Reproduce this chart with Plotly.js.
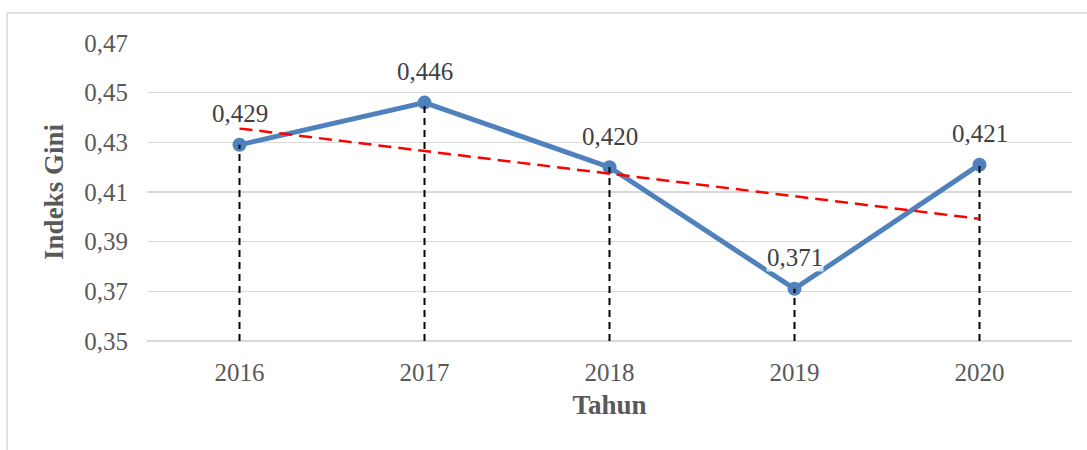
<!DOCTYPE html>
<html>
<head>
<meta charset="utf-8">
<script src="https://cdn.plot.ly/plotly-3.0.1.min.js"></script>
<style>
html,body{margin:0;padding:0;background:#fff;}
#chart{width:1087px;height:450px;}
</style>
</head>
<body>
<div id="chart"></div>
<script>
// Data
var years = ['2016', '2017', '2018', '2019', '2020'];
var giniValues = [0.429, 0.446, 0.420, 0.371, 0.421];
var giniLabels = ['0,429', '0,446', '0,420', '0,371', '0,421'];
var trendYears = ['2016', '2020'];
var trendValues = [0.4356, 0.3992];
var yTickVals = [0.35, 0.37, 0.39, 0.41, 0.43, 0.45, 0.47];
var yTickText = ['0,35', '0,37', '0,39', '0,41', '0,43', '0,45', '0,47'];
var yRange = [0.35, 0.47];

var FONT = 'Liberation Serif, DejaVu Serif, serif';

var traces = [];
traces.push({
  type: 'scatter', mode: 'lines+markers', x: years, y: giniValues,
  line: {color: '#4f81bd', width: 5},
  marker: {color: '#4f81bd', size: 14},
  hoverinfo: 'skip', showlegend: false, cliponaxis: false
});
for (var i = 0; i < years.length; i++) {
  traces.push({
    type: 'scatter', mode: 'lines', x: [years[i], years[i]], y: [yRange[0], giniValues[i]],
    line: {color: '#000000', width: 2, dash: '7px,5px'},
    hoverinfo: 'skip', showlegend: false, cliponaxis: false
  });
}
traces.push({
  type: 'scatter', mode: 'lines', x: trendYears, y: trendValues,
  line: {color: '#ff0000', width: 2.5, dash: '13px,7px'},
  hoverinfo: 'skip', showlegend: false
});

var annotations = [];
for (var j = 0; j < years.length; j++) {
  annotations.push({
    x: j, y: giniValues[j], xref: 'x', yref: 'y',
    text: giniLabels[j], showarrow: false,
    xanchor: 'center', yanchor: 'middle', yshift: 31,
    font: {family: FONT, size: 25, color: '#404040'},
    bgcolor: 'rgba(255,255,255,0.75)', borderpad: 0
  });
}

var layout = {
  width: 1087, height: 450,
  margin: {l: 147, r: 15, t: 43, b: 109, pad: 0},
  paper_bgcolor: '#ffffff', plot_bgcolor: '#ffffff',
  showlegend: false,
  font: {family: FONT, size: 25, color: '#595959'},
  xaxis: {
    type: 'category', categoryorder: 'array', categoryarray: years,
    range: [-0.5, 4.5], showgrid: false, zeroline: false,
    showline: false, ticks: '', ticklabelstandoff: 14,
    tickfont: {family: FONT, size: 25, color: '#595959'},
    title: {text: 'Tahun', font: {family: FONT, size: 27, color: '#595959', weight: 'bold'}, standoff: 10},
    fixedrange: true
  },
  yaxis: {
    range: yRange, tickmode: 'array', tickvals: yTickVals, ticktext: yTickText,
    showgrid: true, gridcolor: '#d9d9d9', gridwidth: 1.5,
    zeroline: false, showline: false, ticks: '', ticklabelstandoff: 18,
    tickfont: {family: FONT, size: 25, color: '#595959'},
    title: {text: 'Indeks Gini', font: {family: FONT, size: 27, color: '#595959', weight: 'bold'}, standoff: 12},
    fixedrange: true
  },
  annotations: annotations,
  shapes: [
    {type: 'line', xref: 'paper', yref: 'paper', x0: 0, x1: 1, y0: 0, y1: 0, line: {color: '#d9d9d9', width: 2}, layer: 'below'},
    {type: 'line', xref: 'paper', yref: 'paper', x0: -140/925, x1: 1.02, y0: 1 + 30/298, y1: 1 + 30/298, line: {color: '#d9d9d9', width: 1.5}},
    {type: 'line', xref: 'paper', yref: 'paper', x0: -140/925, x1: -140/925, y0: 1 + 30/298, y1: -110/298, line: {color: '#d9d9d9', width: 1.5}}
  ]
};

Plotly.newPlot('chart', traces, layout, {displayModeBar: false, staticPlot: true}).catch(function (e) {
  document.body.insertAdjacentHTML('beforeend', '<pre>' + e + '</pre>');
});
</script>
</body>
</html>
